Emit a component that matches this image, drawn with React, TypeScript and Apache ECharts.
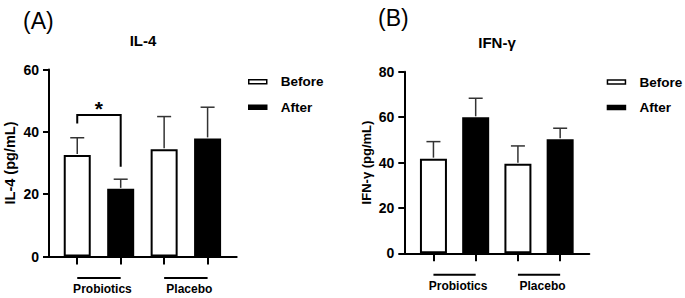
import React, { useEffect, useRef } from "react";
import * as echarts from "echarts";

// ---- data ----
const categories = ["Probiotics", "Placebo"];
const timepoints = ["Before", "After"];

const il4Before = [32.6, 34.4];
const il4BeforeErr = [5.5, 10.5];
const il4After = [21.7, 37.9];
const il4AfterErr = [3.1, 10.0];
// significance bracket (Probiotics Before vs After): left leg bottom, right leg bottom, bracket top, asterisk level
const il4Significance = [42.7, 28.8, 45.4, 49.1];

const ifnBefore = [41.7, 39.5];
const ifnBeforeErr = [7.5, 7.8];
const ifnAfter = [59.9, 50.2];
const ifnAfterErr = [8.4, 4.9];

const il4Ticks = [0, 20, 40, 60];
const ifnTicks = [0, 20, 40, 60, 80];

const FONT = "'Liberation Sans', Arial, Helvetica, sans-serif";

type Panel = {
  grid: { left: number; top: number; width: number; height: number };
  ticks: number[];
  slotOffset: number;
  xMax: number;
  before: number[];
  beforeErr: number[];
  after: number[];
  afterErr: number[];
  yName: string;
  yNameSize: number;
  yNameGap: number;
  sig?: number[];
};

const panels: Panel[] = [
  {
    grid: { left: 49, top: 69.5, width: 187.7, height: 187 },
    ticks: il4Ticks,
    slotOffset: 0.65,
    xMax: 4.32,
    before: il4Before,
    beforeErr: il4BeforeErr,
    after: il4After,
    afterErr: il4AfterErr,
    yName: "IL-4 (pg/mL)",
    yNameSize: 14.5,
    yNameGap: 32,
    sig: il4Significance,
  },
  {
    grid: { left: 404.3, top: 71.7, width: 185, height: 181.6 },
    ticks: ifnTicks,
    slotOffset: 0.69,
    xMax: 4.38,
    before: ifnBefore,
    beforeErr: ifnBeforeErr,
    after: ifnAfter,
    afterErr: ifnAfterErr,
    yName: "IFN-γ (pg/mL)",
    yNameSize: 13,
    yNameGap: 31,
  },
];

function buildOption() {
  const grid: any[] = [];
  const xAxis: any[] = [];
  const yAxis: any[] = [];
  const series: any[] = [];

  panels.forEach((p, pi) => {
    const pos = (g: number, t: number) => p.slotOffset + g * 2 + t;
    const tickPositions: number[] = [];
    categories.forEach((_, g) => timepoints.forEach((__, t) => tickPositions.push(pos(g, t))));
    const yMax = p.ticks[p.ticks.length - 1];

    grid.push({ ...p.grid, containLabel: false });
    xAxis.push({
      type: "value",
      gridIndex: pi,
      min: 0,
      max: p.xMax,
      splitLine: { show: false },
      axisLine: { show: true, onZero: false, lineStyle: { color: "#000", width: 2 } },
      axisTick: {
        show: true,
        customValues: tickPositions,
        length: 8,
        inside: false,
        lineStyle: { color: "#000", width: 2 },
      },
      axisLabel: { show: false },
    });
    yAxis.push({
      type: "value",
      gridIndex: pi,
      min: 0,
      max: yMax,
      interval: 20,
      splitLine: { show: false },
      axisLine: { show: true, lineStyle: { color: "#000", width: 2 } },
      axisTick: { show: true, length: 6, inside: false, lineStyle: { color: "#000", width: 2 } },
      axisLabel: {
        color: "#000",
        fontFamily: FONT,
        fontWeight: "bold",
        fontSize: 14,
        margin: 10,
      },
      name: p.yName,
      nameLocation: "middle",
      nameRotate: 90,
      nameGap: p.yNameGap,
      nameTextStyle: { color: "#000", fontFamily: FONT, fontWeight: "bold", fontSize: p.yNameSize },
    });

    const groups = [
      { name: "Before", vals: p.before, errs: p.beforeErr, t: 0, fill: "#fff" },
      { name: "After", vals: p.after, errs: p.afterErr, t: 1, fill: "#000" },
    ];
    groups.forEach((s) => {
      series.push({
        type: "bar",
        name: s.name,
        xAxisIndex: pi,
        yAxisIndex: pi,
        barWidth: 27,
        barGap: "-100%",
        itemStyle: { color: s.fill, borderColor: "#000", borderWidth: 2 },
        data: s.vals.map((v, g) => [pos(g, s.t), v]),
      });
    });
    groups.forEach((s) => {
      series.push({
        type: "custom",
        name: s.name + " SD",
        xAxisIndex: pi,
        yAxisIndex: pi,
        clip: false,
        z: 3,
        encode: { x: 0, y: 1 },
        data: s.vals.map((v, g) => [pos(g, s.t), v, s.errs[g]]),
        renderItem: (_params: any, api: any) => {
          const x = api.value(0);
          const m = api.value(1);
          const e = api.value(2);
          const b = api.coord([x, m]);
          const tp = api.coord([x, m + e]);
          const st = { stroke: "#333", lineWidth: 1.5 };
          return {
            type: "group",
            children: [
              { type: "line", shape: { x1: b[0], y1: b[1] - 1, x2: tp[0], y2: tp[1] }, style: st },
              { type: "line", shape: { x1: tp[0] - 7, y1: tp[1], x2: tp[0] + 7, y2: tp[1] }, style: st },
            ],
          };
        },
      });
    });

    // group labels under the axis
    series.push({
      type: "custom",
      name: "groups" + pi,
      xAxisIndex: pi,
      yAxisIndex: pi,
      clip: false,
      silent: true,
      encode: { x: [0, 1], y: 2 },
      data: categories.map((_, g) => [pos(g, 0), pos(g, 1), 0]),
      renderItem: (params: any, api: any) => {
        const a = api.coord([api.value(0), 0]);
        const b = api.coord([api.value(1), 0]);
        return {
          type: "group",
          children: [
            {
              type: "line",
              shape: { x1: a[0], y1: a[1] + 21.5, x2: b[0], y2: b[1] + 21.5 },
              style: { stroke: "#000", lineWidth: 2 },
            },
            {
              type: "text",
              x: (a[0] + b[0]) / 2 + 3.5,
              y: a[1] + 32.5,
              style: {
                text: categories[params.dataIndex],
                fill: "#000",
                fontFamily: FONT,
                fontWeight: "bold",
                fontSize: 12,
                align: "center",
                verticalAlign: "middle",
              },
            },
          ],
        };
      },
    });

    if (p.sig) {
      const sg = p.sig;
      series.push({
        type: "custom",
        name: "significance",
        xAxisIndex: pi,
        yAxisIndex: pi,
        clip: false,
        silent: true,
        encode: { x: [0, 2], y: [1, 3, 4, 5] },
        data: [[pos(0, 0), sg[0], pos(0, 1), sg[1], sg[2], sg[3]]],
        renderItem: (_params: any, api: any) => {
          const xl = api.value(0);
          const xr = api.value(2);
          const p1 = api.coord([xl, api.value(1)]);
          const p2 = api.coord([xl, api.value(4)]);
          const p3 = api.coord([xr, api.value(4)]);
          const p4 = api.coord([xr, api.value(3)]);
          const star = api.coord([(xl + xr) / 2, api.value(5)]);
          return {
            type: "group",
            children: [
              {
                type: "polyline",
                shape: { points: [p1, p2, p3, p4] },
                style: { stroke: "#000", lineWidth: 2, fill: "none" },
              },
              {
                type: "text",
                x: star[0],
                y: star[1] + 5,
                style: {
                  text: "*",
                  fill: "#000",
                  fontFamily: FONT,
                  fontWeight: "bold",
                  fontSize: 21,
                  align: "center",
                  verticalAlign: "middle",
                },
              },
            ],
          };
        },
      });
    }
  });

  const legendBase = {
    data: timepoints.map((n) => ({ name: n, icon: "rect" })),
    orient: "vertical",
    itemWidth: 18,
    itemHeight: 4,
    itemGap: 11.6,
    selectedMode: false,
    itemStyle: { borderWidth: 1.5 },
    textStyle: {
      color: "#000",
      fontFamily: FONT,
      fontWeight: "bold",
      fontSize: 13.5,
      lineHeight: 14,
      padding: [0, 0, 0, 9],
    },
    padding: 0,
  };

  const titleStyle = (size: number, bold: boolean) => ({
    color: "#000",
    fontFamily: FONT,
    fontWeight: bold ? "bold" : "normal",
    fontSize: size,
  });

  return {
    animation: false,
    backgroundColor: "#fff",
    title: [
      { text: "(A)", left: 23, top: 9, padding: 0, textStyle: titleStyle(23, false) },
      { text: "IL-4", left: 143, top: 33, padding: 0, textAlign: "center", textStyle: titleStyle(15, true) },
      { text: "(B)", left: 378, top: 6, padding: 0, textStyle: titleStyle(23, false) },
      { text: "IFN-γ", left: 497, top: 35, padding: 0, textAlign: "center", textStyle: titleStyle(15, true) },
    ],
    legend: [
      { ...legendBase, left: 248, top: 74.7 },
      { ...legendBase, left: 606.7, top: 75 },
    ],
    grid,
    xAxis,
    yAxis,
    series,
  };
}

export default function App() {
  const ref = useRef<HTMLDivElement>(null);
  useEffect(() => {
    if (!ref.current) return;
    const chart = echarts.init(ref.current, undefined, { renderer: "svg" });
    chart.setOption(buildOption() as any);
    return () => chart.dispose();
  }, []);
  return (
    <div
      ref={ref}
      style={{ position: "fixed", left: 0, top: 0, width: 685, height: 298, background: "#fff" }}
    />
  );
}
